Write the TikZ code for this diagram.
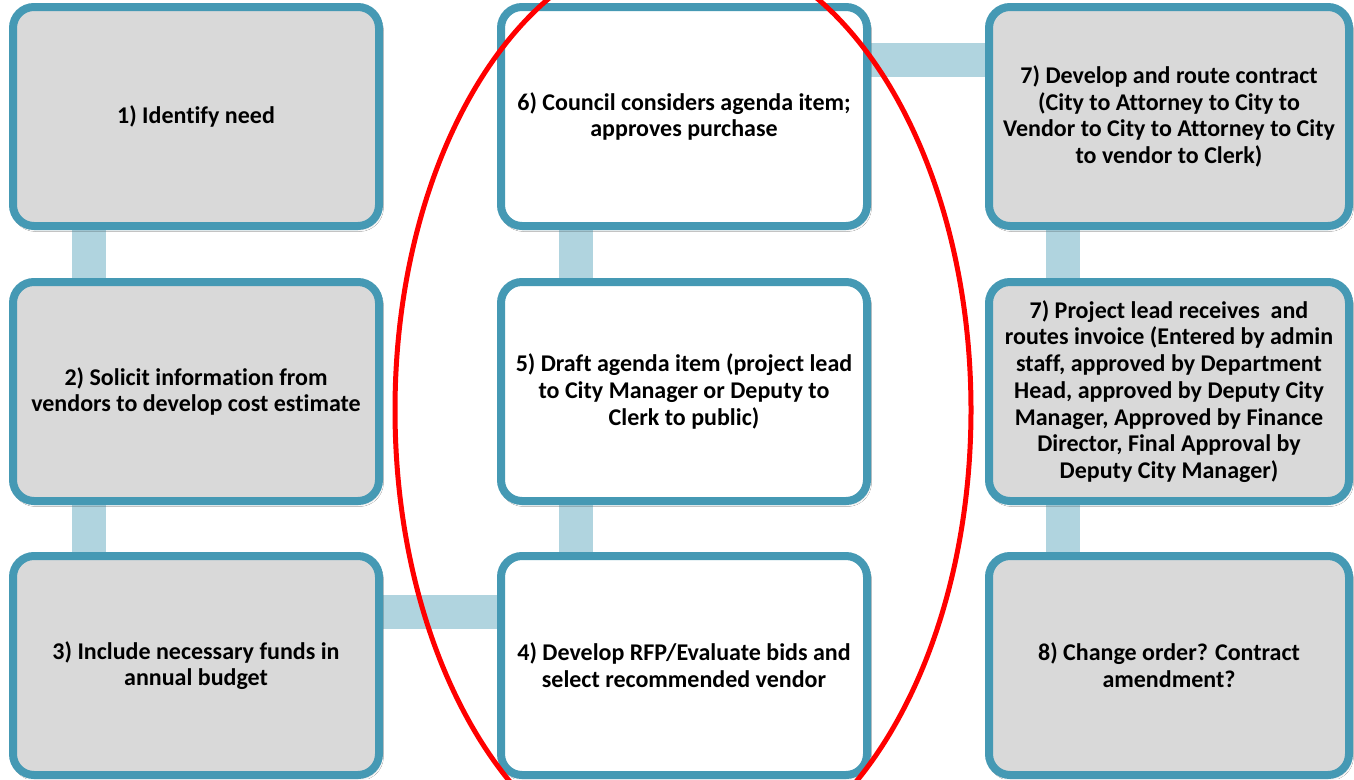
\documentclass[tikz,border=0pt]{standalone}
\usepackage{fontspec}
\setmainfont{Carlito}[Ligatures=NoCommon]
\usetikzlibrary{backgrounds,shadows.blur}
\definecolor{bordc}{HTML}{4599B4}
\definecolor{boxgray}{HTML}{D9D9D9}
\definecolor{barc}{HTML}{B0D4DF}
\definecolor{ovalred}{HTML}{FF0000}
\tikzset{
  stepbox/.style={draw=bordc, line width=8pt, rounded corners=21pt,
    minimum width=366pt, minimum height=219pt, inner sep=0pt, align=center,
    font=\bfseries\fontsize{24pt}{26.7pt}\selectfont, text=black,
    blur shadow={shadow xshift=1.5pt, shadow yshift=-2.5pt, shadow opacity=30, shadow blur radius=3pt}},
  graybox/.style={stepbox, fill=boxgray},
  whitebox/.style={stepbox, fill=white},
  rightbox/.style={graybox, minimum width=360pt},
  linkbar/.style={draw=barc, line width=34pt},
  oval/.style={draw=ovalred, line width=5pt}
}
\begin{document}
\begin{tikzpicture}[x=1pt,y=-1pt]
\useasboundingbox (0,0) rectangle (1354,779);
\clip (0,0) rectangle (1354,779);
% left column
\node[graybox] (n1) at (196,116.5) {1) Identify need};
\node[graybox] (n2) at (196,391.5) {2) Solicit information from\\vendors to develop cost estimate};
\node[graybox] (n3) at (196,665.5) {3) Include necessary funds in\\annual budget};
% middle column
\node[whitebox] (n4) at (684,665.5) {4) Develop RFP/Evaluate bids and\\select recommended vendor};
\node[whitebox] (n5) at (684,391.5) {5) Draft agenda item (project lead\\to City Manager or Deputy to\\Clerk to public)};
\node[whitebox] (n6) at (684,116.5) {6) Council considers agenda item;\\approves purchase};
% right column
\node[rightbox] (n7) at (1169,116.5) {7) Develop and route contract\\(City to Attorney to City to\\Vendor to City to Attorney to City\\to vendor to Clerk)};
\node[rightbox] (n7b) at (1169,391.5) {7) Project lead receives\ \ and\\routes invoice (Entered by admin\\staff, approved by Department\\Head, approved by Deputy City\\Manager, Approved by Finance\\Director, Final Approval by\\Deputy City Manager)};
\node[rightbox] (n8) at (1169,665.5) {8) Change order? Contract\\amendment?};
% connectors
\begin{scope}[on background layer]
\fill[white] (0,0) rectangle (1354,779);
\draw[linkbar] ([xshift=-107.5pt]n1.center) -- ([xshift=-107.5pt]n2.center);
\draw[linkbar] ([xshift=-107.5pt]n2.center) -- ([xshift=-107.5pt]n3.center);
\draw[linkbar] ([yshift=54pt]n3.center) -- ([yshift=54pt]n4.center);
\draw[linkbar] ([xshift=-108.5pt]n4.center) -- ([xshift=-108.5pt]n5.center);
\draw[linkbar] ([xshift=-108.5pt]n5.center) -- ([xshift=-108.5pt]n6.center);
\draw[linkbar] ([yshift=56.5pt]n6.center) -- ([yshift=56.5pt]n7.center);
\draw[linkbar] ([xshift=-106.5pt]n7.center) -- ([xshift=-106.5pt]n7b.center);
\draw[linkbar] ([xshift=-106.5pt]n7b.center) -- ([xshift=-106.5pt]n8.center);
\end{scope}
% highlight ellipse
\draw[oval] (683,410) ellipse [x radius=288pt, y radius=465pt];
\end{tikzpicture}
\end{document}
